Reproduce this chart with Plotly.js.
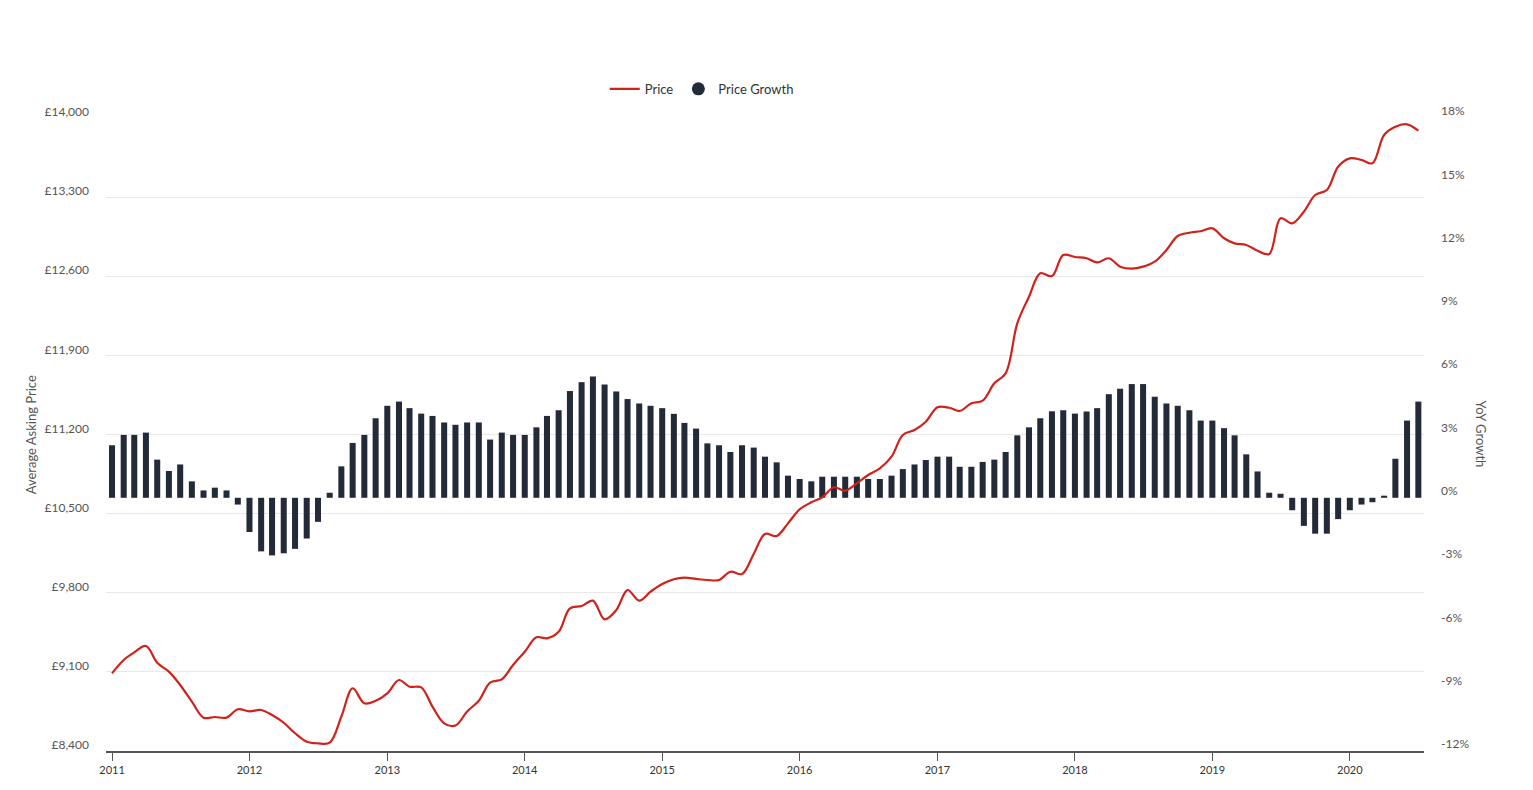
<!DOCTYPE html>
<html>
<head>
<meta charset="utf-8">
<script src="https://cdn.plot.ly/plotly-3.0.1.min.js"></script>
<style>
  html, body { margin: 0; padding: 0; background: #ffffff; }
  #chart { width: 1533px; height: 790px; }
</style>
</head>
<body>
<div id="chart"></div>
<script>
// ---- Data (monthly, Jan 2011 – Jul 2020) ----
const startYear = 2011;
const monthCount = 115;

const price = [
  9087, 9205, 9273, 9329, 9181, 9102, 8984, 8836, 8695, 8701, 8695, 8769,
  8751, 8763, 8718, 8650, 8557, 8482, 8468, 8474, 8704, 8955, 8822, 8845,
  8910, 9028, 8969, 8963, 8792, 8645, 8625, 8750, 8845, 9004, 9034, 9161,
  9278, 9406, 9397, 9455, 9662, 9683, 9730, 9565, 9647, 9824, 9730, 9809,
  9877, 9919, 9933, 9922, 9913, 9913, 9986, 9966, 10143, 10320, 10302, 10414,
  10538, 10600, 10644, 10733, 10703, 10768, 10842, 10901, 11004, 11196, 11240, 11313,
  11441, 11437, 11408, 11476, 11499, 11653, 11741, 12184, 12419, 12626, 12602, 12788,
  12770, 12759, 12722, 12759, 12685, 12667, 12685, 12729, 12832, 12956, 12985, 12998,
  13024, 12936, 12891, 12877, 12826, 12797, 13113, 13068, 13171, 13319, 13363, 13569,
  13643, 13629, 13600, 13850, 13923, 13944, 13888
];

const growth = [
  2.49, 2.98, 2.98, 3.09, 1.81, 1.27, 1.58, 0.78, 0.35, 0.48, 0.35, -0.32,
  -1.62, -2.54, -2.73, -2.63, -2.42, -1.93, -1.14, 0.24, 1.49, 2.60, 2.98, 3.77,
  4.36, 4.56, 4.25, 3.99, 3.88, 3.57, 3.46, 3.57, 3.57, 2.76, 3.09, 2.98,
  2.98, 3.34, 3.88, 4.15, 5.06, 5.48, 5.75, 5.37, 5.04, 4.68, 4.47, 4.36,
  4.25, 3.98, 3.55, 3.28, 2.58, 2.49, 2.17, 2.49, 2.38, 1.95, 1.68, 1.05,
  0.89, 0.78, 1.00, 1.00, 1.00, 1.00, 0.89, 0.89, 1.05, 1.36, 1.58, 1.79,
  1.95, 1.95, 1.47, 1.47, 1.70, 1.81, 2.17, 2.96, 3.34, 3.77, 4.10, 4.15,
  3.99, 4.09, 4.25, 4.91, 5.17, 5.39, 5.39, 4.79, 4.47, 4.36, 4.15, 3.66,
  3.66, 3.30, 2.96, 2.06, 1.25, 0.24, 0.19, -0.59, -1.33, -1.70, -1.70, -1.01,
  -0.59, -0.32, -0.21, 0.10, 1.85, 3.66, 4.56
];

const priceTicks = [8400, 9100, 9800, 10500, 11200, 11900, 12600, 13300, 14000];
const growthTicks = [-12, -9, -6, -3, 0, 3, 6, 9, 12, 15, 18];

// month dates
const months = [];
for (let i = 0; i < monthCount; i++) {
  const y = startYear + Math.floor(i / 12);
  const m = (i % 12) + 1;
  months.push(y + '-' + String(m).padStart(2, '0') + '-01');
}

const FONT = 'Lato, "Open Sans", sans-serif';
const RED = '#d0211b';
const NAVY = '#232a38';
const DAY = 86400000;

const traces = [
  {
    type: 'bar',
    name: 'Price Growth',
    x: months,
    y: growth,
    yaxis: 'y',
    width: months.map(() => 16 * DAY),
    marker: { color: NAVY },
    showlegend: false,
    hoverinfo: 'skip'
  },
  {
    type: 'scatter',
    mode: 'lines',
    name: 'Price',
    x: months,
    y: price,
    yaxis: 'y2',
    line: { color: RED, width: 2.2, shape: 'spline', smoothing: 1 },
    hoverinfo: 'skip',
    legendrank: 1
  },
  {
    type: 'scatter',
    mode: 'markers',
    name: 'Price Growth',
    x: [null],
    y: [null],
    yaxis: 'y',
    marker: { color: NAVY, size: 13, symbol: 'circle' },
    hoverinfo: 'skip',
    legendrank: 2
  }
];

const layout = {
  width: 1533,
  height: 790,
  margin: { l: 106, r: 109, t: 118, b: 39 },
  paper_bgcolor: '#ffffff',
  plot_bgcolor: '#ffffff',
  font: { family: FONT, size: 12, color: '#555' },
  showlegend: true,
  legend: {
    orientation: 'h',
    x: 0.452, xanchor: 'center',
    y: 1.046, yanchor: 'middle',
    font: { family: FONT, size: 13, color: '#333' },
    itemwidth: 30,
    traceorder: 'normal'
  },
  xaxis: {
    type: 'date',
    range: ['2010-12-16', '2020-07-16'],
    tick0: '2011-01-01',
    dtick: 'M12',
    tickformat: '%Y',
    ticks: 'outside',
    ticklen: 8,
    tickcolor: '#555',
    showline: true,
    linecolor: '#555',
    linewidth: 1.5,
    showgrid: false,
    zeroline: false,
    tickfont: { family: FONT, size: 11, color: '#333' }
  },
  yaxis: {
    side: 'right',
    range: [-12, 18],
    tickvals: growthTicks,
    ticktext: growthTicks.map(v => v + '%'),
    showgrid: false,
    zeroline: false,
    showline: false,
    ticks: '',
    ticklabelstandoff: 16,
    ticklabelshift: -7,
    tickfont: { family: FONT, size: 12, color: '#555' }
  },
  yaxis2: {
    side: 'left',
    overlaying: 'y',
    range: [8400, 14000],
    tickvals: priceTicks,
    ticktext: priceTicks.map(v => '£' + v.toLocaleString('en-GB')),
    showgrid: true,
    gridcolor: '#e8e8e8',
    gridwidth: 1,
    zeroline: false,
    showline: false,
    ticks: '',
    ticklabelstandoff: 16,
    ticklabelshift: -6,
    tickfont: { family: FONT, size: 12, color: '#555' }
  },
  annotations: [
    {
      text: 'Average Asking Price',
      xref: 'paper', yref: 'paper',
      x: -0.057, y: 0.5,
      xanchor: 'center', yanchor: 'middle',
      textangle: -90,
      showarrow: false,
      font: { family: FONT, size: 13, color: '#555' }
    },
    {
      text: 'YoY Growth',
      xref: 'paper', yref: 'paper',
      x: 1.044, y: 0.5,
      xanchor: 'center', yanchor: 'middle',
      textangle: 90,
      showarrow: false,
      font: { family: FONT, size: 13, color: '#555' }
    }
  ]
};

Plotly.newPlot('chart', traces, layout, { displayModeBar: false, staticPlot: true });
</script>
</body>
</html>
